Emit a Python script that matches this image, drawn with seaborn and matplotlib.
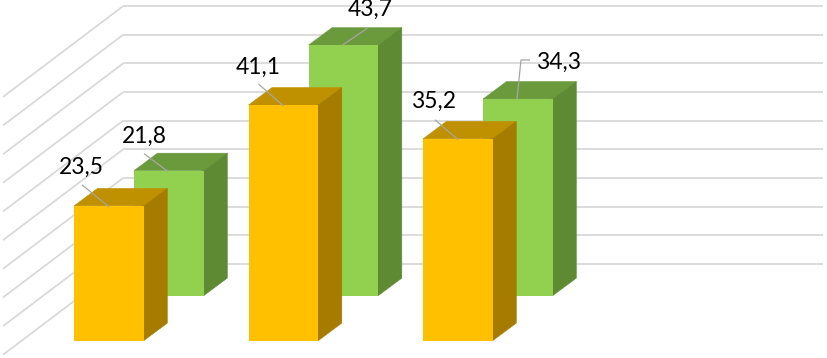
#grafik batang semu 3d, dua seri

import matplotlib
matplotlib.use('Agg')
import matplotlib.pyplot as plt
import seaborn as sns
from matplotlib.patches import Polygon

#data
kategori = ['A', 'B', 'C']
seri_depan = [23.5, 41.1, 35.2]
seri_belakang = [21.8, 43.7, 34.3]
grid_nilai = [5, 10, 15, 20, 25, 30, 35, 40, 45, 50]

#skala gambar
W, H = 827, 358
PX_KAT = 174.5
PX_NILAI = 5.73
DX = 23.4 / PX_KAT
DY = 17.4 / PX_NILAI

sns.set_theme(style='white')
plt.rcParams['font.family'] = ['Lato', 'DejaVu Sans']

fig = plt.figure(figsize=(W / 100, H / 100), dpi=100)
fig.patch.set_facecolor('white')


def buat_axes(pusat_x, dasar_y):
    # axes selebar gambar, kategori 0 di pusat_x, nilai 0 di dasar_y (px dari atas)
    ax = fig.add_axes([0, 0, 1, 1])
    ax.patch.set_alpha(0)
    ax._lim = ((-pusat_x / PX_KAT, (W - pusat_x) / PX_KAT),
               (-(H - dasar_y) / PX_NILAI, dasar_y / PX_NILAI))
    return ax


def rapikan(ax):
    ax.set_xlim(*ax._lim[0])
    ax.set_ylim(*ax._lim[1])
    ax.axis('off')


def batang(ax, nilai, warna, warna_atas, warna_sisi):
    data = {'kategori': kategori, 'nilai': nilai}
    sns.barplot(data=data, x='kategori', y='nilai', color=warna, saturation=1,
                width=0.4, linewidth=0, ax=ax, zorder=3)
    # sisi digeser sedikit ke bawah muka batang supaya tidak ada celah putih
    geser = 2 / PX_KAT
    for p in list(ax.patches):
        x0, x1 = p.get_x(), p.get_x() + p.get_width()
        h = p.get_height()
        ax.add_patch(Polygon([(x0, h), (x1, h), (x1 + DX, h + DY), (x0 + DX, h + DY)],
                             fc=warna_atas, ec=warna_atas, lw=0.4, zorder=2.8))
        ax.add_patch(Polygon([(x1 - geser, 0), (x1, 0), (x1 + DX, DY), (x1 + DX, h + DY),
                              (x1, h), (x1 - geser, h)],
                             fc=warna_sisi, ec=warna_sisi, lw=0.4, zorder=2.9))
    rapikan(ax)


def label(ax, i, nilai, garis, teks_pos):
    # garis dan teks_pos dalam px relatif ke pusat atas batang
    xs = [i + g[0] / PX_KAT for g in garis]
    ys = [nilai - g[1] / PX_NILAI for g in garis]
    ax.plot(xs, ys, color='#A6A6A6', lw=0.9, zorder=4, solid_capstyle='butt')
    ax.text(i + teks_pos[0] / PX_KAT, nilai - teks_pos[1] / PX_NILAI,
            f'{nilai}'.replace('.', ','), ha='center', va='center',
            fontsize=16.4, color='black', zorder=5)


#grid dinding belakang dan samping
ax_grid = fig.add_axes([0, 0, 1, 1])
ax_grid.patch.set_alpha(0)
ax_grid.set_xlim(0, W)
ax_grid.set_ylim(-(H - 292.7) / PX_NILAI, 292.7 / PX_NILAI)
ax_grid.hlines(grid_nilai, 123, 823, color='#D9D9D9', lw=1.3)
for v in grid_nilai:
    ax_grid.plot([3, 123], [v - 90.7 / PX_NILAI, v], color='#D9D9D9', lw=1.3,
                 solid_capstyle='butt')
ax_grid.set_xlim(0, W)
ax_grid.axis('off')

#seri belakang
ax_b = buat_axes(169, 295.5)
batang(ax_b, seri_belakang, '#92D050', '#6B9A3C', '#5E8A34')

#seri depan
ax_d = buat_axes(109, 340.5)
batang(ax_d, seri_depan, '#FFC000', '#BF9000', '#A67C00')

#label data
label(ax_b, 0, seri_belakang[0], [(-1, 1), (-25, -17)], (-25, -34))
label(ax_b, 1, seri_belakang[1], [(-1, 0), (24, -17)], (27, -36))
label(ax_b, 2, seri_belakang[2], [(-1, 0), (3, -39), (12, -39)], (41, -37))
label(ax_d, 0, seri_depan[0], [(0, 1), (-27, -21)], (-28, -39))
label(ax_d, 1, seri_depan[1], [(0, 1), (-25, -21)], (-25, -38))
label(ax_d, 2, seri_depan[2], [(0, 1), (-23, -19)], (-24, -37))

fig.savefig('out.png', dpi=100)
